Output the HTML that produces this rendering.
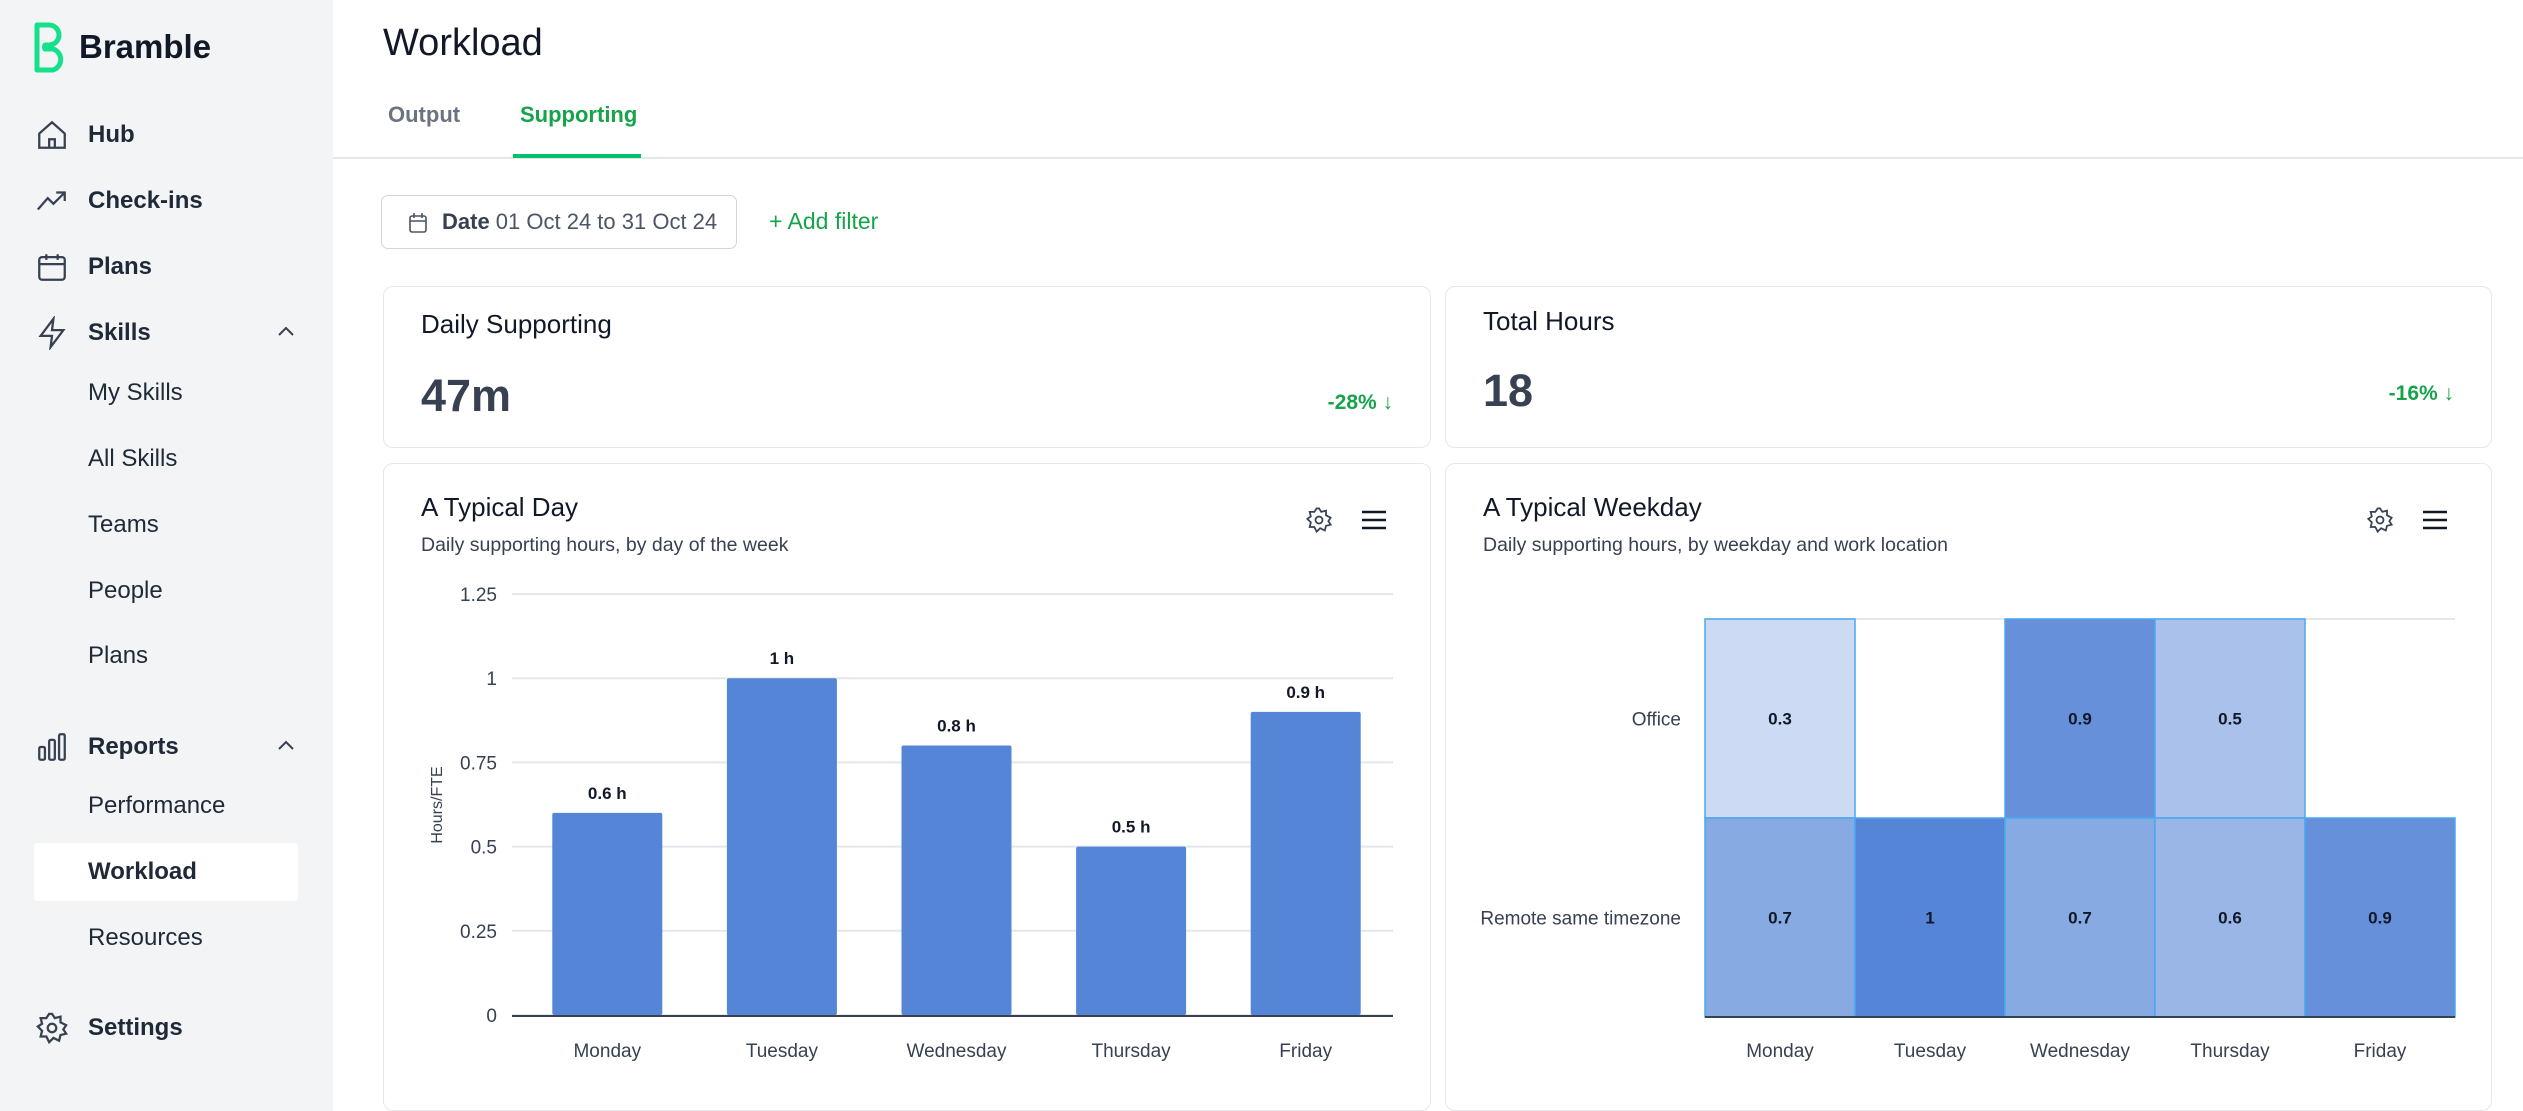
<!DOCTYPE html>
<html><head><meta charset="utf-8">
<style>
*{box-sizing:border-box;margin:0;padding:0}
html{width:2523px;height:1111px;overflow:hidden}
body{width:2523px;height:1111px;overflow:hidden;background:#fff;font-family:"Liberation Sans",sans-serif;color:#1f2937;position:relative}
.abs{position:absolute}
#sidebar{left:0;top:0;width:333px;height:1111px;background:#f3f4f6}
.nav{position:absolute;left:88px;font-size:24px;line-height:30px;color:#1f2937;transform:translateY(-15px);white-space:nowrap}
.nav.b{font-weight:bold}
.ico{position:absolute;left:35px;width:34px;height:34px;transform:translateY(-17px)}
.card{position:absolute;border:1.5px solid #e5e7eb;border-radius:10px;background:#fff}
.t{position:absolute;white-space:nowrap}
</style></head><body>
<div id="sidebar" class="abs">
  <svg class="abs" style="left:33px;top:22px" width="42" height="52" viewBox="0 0 42 52"><path d="M4 48 V3 H16 A10 10 0 0 1 16 23 H12 A4 4 0 0 0 12 27 H20 A11 11 0 0 1 20 48 Z" fill="none" stroke="#16e08a" stroke-width="5" stroke-linejoin="round"/></svg>
  <div class="t" style="left:79px;top:28px;font-size:33px;font-weight:bold;color:#111827">Bramble</div>

  <svg class="ico" style="top:135px" viewBox="0 0 24 24" fill="none" stroke="#374151" stroke-width="1.6"><path d="M3 11 L12 3 L21 11 V21 H3 Z M10 21 V15 H14 V21"/></svg>
  <div class="nav b" style="top:135px">Hub</div>
  <svg class="ico" style="top:201px" viewBox="0 0 24 24" fill="none" stroke="#374151" stroke-width="1.6"><path d="M2 18 L9 10 L13 14 L21 6 M15 6 H21 V12"/></svg>
  <div class="nav b" style="top:201px">Check-ins</div>
  <svg class="ico" style="top:267px" viewBox="0 0 24 24" fill="none" stroke="#374151" stroke-width="1.6"><rect x="3" y="5" width="18" height="16" rx="2"/><path d="M3 10 H21 M8 3 V7 M16 3 V7"/></svg>
  <div class="nav b" style="top:267px">Plans</div>
  <svg class="ico" style="top:333px" viewBox="0 0 24 24" fill="none" stroke="#374151" stroke-width="1.6"><path d="M13 2 L4 14 H12 L11 22 L20 10 H12 Z"/></svg>
  <div class="nav b" style="top:333px">Skills</div>
  <svg class="abs" style="left:276px;top:324px" width="20" height="14" viewBox="0 0 20 14"><path d="M3 11 L10 4 L17 11" fill="none" stroke="#374151" stroke-width="2"/></svg>
  <div class="nav" style="top:393px">My Skills</div>
  <div class="nav" style="top:459px">All Skills</div>
  <div class="nav" style="top:525px">Teams</div>
  <div class="nav" style="top:591px">People</div>
  <div class="nav" style="top:656px">Plans</div>
  <svg class="ico" style="top:747px" viewBox="0 0 24 24" fill="none" stroke="#374151" stroke-width="1.6"><rect x="3" y="12" width="4" height="9" rx="1"/><rect x="10" y="7" width="4" height="14" rx="1"/><rect x="17" y="3" width="4" height="18" rx="1"/></svg>
  <div class="nav b" style="top:747px">Reports</div>
  <svg class="abs" style="left:276px;top:738px" width="20" height="14" viewBox="0 0 20 14"><path d="M3 11 L10 4 L17 11" fill="none" stroke="#374151" stroke-width="2"/></svg>
  <div class="nav" style="top:806px">Performance</div>
  <div class="abs" style="left:34px;top:843px;width:264px;height:58px;background:#fff;border-radius:4px"></div>
  <div class="nav b" style="top:872px">Workload</div>
  <div class="nav" style="top:938px">Resources</div>
  <svg class="ico" style="top:1028px" viewBox="0 0 24 24" fill="none" stroke="#374151" stroke-width="1.6"><circle cx="12" cy="12" r="3"/><path d="M12 2 L14 5 L18 4 L18 8 L22 10 L20 13 L22 16 L18 17 L17 21 L13 19 L10 22 L8 18 L4 18 L5 14 L2 11 L5 9 L4 5 L8 5 L10 2 Z"/></svg>
  <div class="nav b" style="top:1028px">Settings</div>
</div>

<div class="t" style="left:383px;top:22px;font-size:38px;color:#111827">Workload</div>
<div class="t" style="left:388px;top:102px;font-size:22px;font-weight:bold;color:#6b7280">Output</div>
<div class="t" style="left:520px;top:102px;font-size:22px;font-weight:bold;color:#16a34a">Supporting</div>
<div class="abs" style="left:333px;top:157px;width:2190px;height:2px;background:#e5e7eb"></div>
<div class="abs" style="left:513px;top:154px;width:128px;height:4px;background:#00c16e"></div>

<div class="abs" style="left:381px;top:195px;width:356px;height:54px;border:1.5px solid #d1d5db;border-radius:7px">
  <svg class="abs" style="left:26px;top:16px" width="20" height="22" viewBox="0 0 20 22"><rect x="2" y="4" width="16" height="16" rx="2" fill="none" stroke="#4b5563" stroke-width="1.6"/><path d="M2 9 H18 M6 1 V6 M14 1 V6" stroke="#4b5563" stroke-width="1.6"/></svg>
  <div class="t" style="left:60px;top:13px;font-size:22px;color:#4b5563"><b style="color:#374151">Date</b> 01 Oct 24 to 31 Oct 24</div>
</div>
<div class="t" style="left:769px;top:208px;font-size:23px;color:#16a34a">+ Add filter</div>

<div class="card" style="left:383px;top:286px;width:1048px;height:162px">
  <div class="t" style="left:37px;top:22px;font-size:26px;color:#111827">Daily Supporting</div>
  <div class="t" style="left:37px;top:83px;font-size:45px;font-weight:bold;color:#374151">47m</div>
  <div class="t" style="right:37px;top:104px;font-size:21px;font-weight:bold;color:#16a34a">-28% ↓</div>
</div>
<div class="card" style="left:1445px;top:286px;width:1047px;height:162px">
  <div class="t" style="left:37px;top:19px;font-size:26px;color:#111827">Total Hours</div>
  <div class="t" style="left:37px;top:78px;font-size:45px;font-weight:bold;color:#374151">18</div>
  <div class="t" style="right:37px;top:95px;font-size:21px;font-weight:bold;color:#16a34a">-16% ↓</div>
</div>

<div class="card" style="left:383px;top:463px;width:1048px;height:648px">
  <div class="t" style="left:37px;top:28px;font-size:26px;color:#111827">A Typical Day</div>
  <div class="t" style="left:37px;top:70px;font-size:19.5px;color:#374151">Daily supporting hours, by day of the week</div>
</div>
<div class="card" style="left:1445px;top:463px;width:1047px;height:648px">
  <div class="t" style="left:37px;top:28px;font-size:26px;color:#111827">A Typical Weekday</div>
  <div class="t" style="left:37px;top:70px;font-size:19.5px;color:#374151">Daily supporting hours, by weekday and work location</div>
</div>
<svg class="abs" style="left:1305px;top:506px" width="28" height="28" viewBox="0 0 24 24"><circle cx="12" cy="12" r="3" fill="none" stroke="#374151" stroke-width="1.5"/><path d="M12 2 L14 5 L18 4 L18 8 L22 10 L20 13 L22 16 L18 17 L17 21 L13 19 L10 22 L8 18 L4 18 L5 14 L2 11 L5 9 L4 5 L8 5 L10 2 Z" fill="none" stroke="#374151" stroke-width="1.5"/></svg>
<svg class="abs" style="left:1361px;top:509px" width="26" height="22" viewBox="0 0 26 22"><path d="M1 3 H25 M1 11 H25 M1 19 H25" stroke="#111827" stroke-width="2.5"/></svg>
<svg class="abs" style="left:2366px;top:506px" width="28" height="28" viewBox="0 0 24 24"><circle cx="12" cy="12" r="3" fill="none" stroke="#374151" stroke-width="1.5"/><path d="M12 2 L14 5 L18 4 L18 8 L22 10 L20 13 L22 16 L18 17 L17 21 L13 19 L10 22 L8 18 L4 18 L5 14 L2 11 L5 9 L4 5 L8 5 L10 2 Z" fill="none" stroke="#374151" stroke-width="1.5"/></svg>
<svg class="abs" style="left:2422px;top:509px" width="26" height="22" viewBox="0 0 26 22"><path d="M1 3 H25 M1 11 H25 M1 19 H25" stroke="#111827" stroke-width="2.5"/></svg>

<svg id="chart" class="abs" style="left:0;top:0" width="2523" height="1111" font-family="Liberation Sans, sans-serif"></svg>

<script>
const days = ["Monday","Tuesday","Wednesday","Thursday","Friday"];
const barValues = [0.6, 1, 0.8, 0.5, 0.9];
const barLabels = ["0.6 h","1 h","0.8 h","0.5 h","0.9 h"];
const yTicks = [0, 0.25, 0.5, 0.75, 1, 1.25];
const yTickLabels = ["0","0.25","0.5","0.75","1","1.25"];
const heatRows = ["Office","Remote same timezone"];
const heatOffice = [0.3, null, 0.9, 0.5, null];
const heatRemote = [0.7, 1, 0.7, 0.6, 0.9];

const NS="http://www.w3.org/2000/svg";
const svg=document.getElementById('chart');
function mk(tag,attrs,parent){const e=document.createElementNS(NS,tag);for(const k in attrs)e.setAttribute(k,attrs[k]);(parent||svg).appendChild(e);return e;}

// Bar chart
const x0=520,x1=1393,yTop=594,yBot=1015,yMax=1.25;
const band=(x1-x0)/days.length;
const yS=v=>yBot-(v/yMax)*(yBot-yTop);
const xC=i=>x0+band*(i+0.5);
yTicks.forEach((t,i)=>{
  const g=mk('line',{x1:512,x2:x1,y1:yS(t),y2:yS(t),stroke:'#e5e7eb','stroke-width':2});
  
  
  const l=mk('text',{x:497,y:yS(t)+7,'text-anchor':'end','font-size':19,fill:'#374151'});
  l.textContent=yTickLabels[i];
  
  
});
const bw=band*0.63;
barValues.forEach((v,i)=>{
  const r=mk('rect',{x:xC(i)-bw/2,y:yS(v),width:bw,height:yBot-yS(v),fill:'#5585d6',rx:2});
  
  
  const t=mk('text',{x:xC(i),y:yS(v)-14,'text-anchor':'middle','font-size':17,'font-weight':'bold',fill:'#111827'});
  t.textContent=barLabels[i];
  
  
  const c=mk('text',{x:xC(i),y:1057,'text-anchor':'middle','font-size':19,fill:'#374151'});
  c.textContent=days[i];
  
  
});
const base=mk('line',{x1:512,x2:x1,y1:yBot+1,y2:yBot+1,stroke:'#374151','stroke-width':2});


const yt=mk('text',{x:0,y:0,'text-anchor':'middle','font-size':16,fill:'#374151',transform:'translate(442,805) rotate(-90)'});
yt.textContent='Hours/FTE';



// Heatmap
const hx0=1705,hx1=2455,hy0=619,hy1=1017;
const cw=(hx1-hx0)/days.length, ch=(hy1-hy0)/heatRows.length;
const col=v=>{const c=[85,133,214];return 'rgb('+c.map(k=>Math.round(255-v*(255-k))).join(',')+')';};
const tl=mk('line',{x1:hx0,x2:hx1,y1:hy0,y2:hy0,stroke:'#e5e7eb','stroke-width':2});


[heatOffice,heatRemote].forEach((row,r)=>{
  const rl=mk('text',{x:1681,y:hy0+ch*(r+0.5)+7,'text-anchor':'end','font-size':19,fill:'#374151'});
  rl.textContent=heatRows[r];
  
  
  row.forEach((v,i)=>{
    if(v===null) return;
    const c=mk('rect',{x:hx0+cw*i,y:hy0+ch*r,width:cw,height:ch,fill:col(v),stroke:'#4aa8f0','stroke-width':1.5});
    
    
    const t=mk('text',{x:hx0+cw*(i+0.5),y:hy0+ch*(r+0.5)+6,'text-anchor':'middle','font-size':17,'font-weight':'bold',fill:'#111827'});
    t.textContent=String(v);
    
    
  });
});
days.forEach((d,i)=>{
  const t=mk('text',{x:hx0+cw*(i+0.5),y:1057,'text-anchor':'middle','font-size':19,fill:'#374151'});
  t.textContent=d;
  
  
});
const hb=mk('line',{x1:hx0,x2:hx1,y1:hy1,y2:hy1,stroke:'#374151','stroke-width':2});


</script>
</body></html>
